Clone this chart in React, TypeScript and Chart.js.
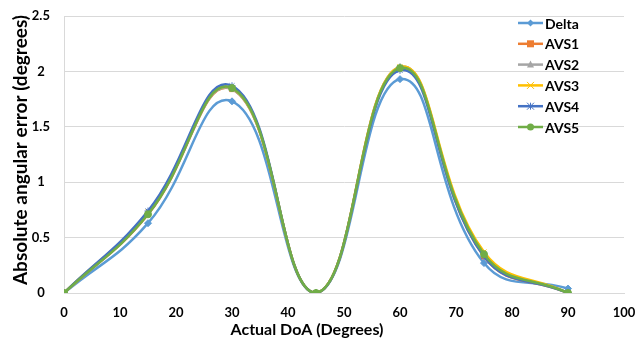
import React, { useEffect, useRef } from "react";
import { Chart, registerables } from "chart.js";

Chart.register(...registerables);

const doa = [0, 15, 30, 45, 60, 75, 90];
const delta = [0, 0.63, 1.73, 0, 1.93, 0.27, 0.04];
const avs1 = [0, 0.71, 1.84, 0, 2.03, 0.33, 0];
const avs2 = [0, 0.72, 1.84, 0, 2.04, 0.35, 0];
const avs3 = [0, 0.73, 1.85, 0, 2.04, 0.37, 0];
const avs4 = [0, 0.74, 1.87, 0, 2.01, 0.33, 0];
const avs5 = [0, 0.71, 1.85, 0, 2.03, 0.35, 0];

const seriesNames = ["Delta", "AVS1", "AVS2", "AVS3", "AVS4", "AVS5"];
const seriesValues = [delta, avs1, avs2, avs3, avs4, avs5];
const seriesColors = ["#5B9BD5", "#ED7D31", "#A5A5A5", "#FFC000", "#4472C4", "#70AD47"];
const seriesMarkers = ["rectRot", "rect", "triangle", "crossRot", "star", "circle"];

const xTitle = "Actual DoA (Degrees)";
const yTitle = "Absolute angular error (degrees)";

const FONT = "Lato, 'Open Sans', sans-serif";

function drawMarker(ctx: any, style: string, x: number, y: number, color: string) {
  const r = 3.5;
  ctx.save();
  ctx.fillStyle = color;
  ctx.strokeStyle = color;
  ctx.lineWidth = 1;
  ctx.beginPath();
  if (style === "rectRot") {
    ctx.moveTo(x, y - r);
    ctx.lineTo(x + r, y);
    ctx.lineTo(x, y + r);
    ctx.lineTo(x - r, y);
    ctx.closePath();
    ctx.fill();
  } else if (style === "rect") {
    ctx.rect(x - r, y - r, 2 * r, 2 * r);
    ctx.fill();
  } else if (style === "triangle") {
    ctx.moveTo(x, y - r - 0.5);
    ctx.lineTo(x + r, y + r - 0.5);
    ctx.lineTo(x - r, y + r - 0.5);
    ctx.closePath();
    ctx.fill();
  } else if (style === "crossRot") {
    ctx.moveTo(x - r, y - r);
    ctx.lineTo(x + r, y + r);
    ctx.moveTo(x + r, y - r);
    ctx.lineTo(x - r, y + r);
    ctx.stroke();
  } else if (style === "star") {
    ctx.moveTo(x - r, y - r);
    ctx.lineTo(x + r, y + r);
    ctx.moveTo(x + r, y - r);
    ctx.lineTo(x - r, y + r);
    ctx.moveTo(x, y - r);
    ctx.lineTo(x, y + r);
    ctx.stroke();
  } else {
    ctx.arc(x, y, r, 0, Math.PI * 2);
    ctx.fill();
  }
  ctx.restore();
}

const legendPlugin = {
  id: "customLegend",
  afterDraw(chart: any) {
    const ctx = chart.ctx;
    ctx.save();
    const x0 = 518;
    const x1 = 543;
    seriesNames.forEach((name, i) => {
      const y = 23 + i * 20.8;
      ctx.strokeStyle = seriesColors[i];
      ctx.lineWidth = 2.5;
      ctx.beginPath();
      ctx.moveTo(x0, y);
      ctx.lineTo(x1, y);
      ctx.stroke();
      drawMarker(ctx, seriesMarkers[i], (x0 + x1) / 2, y, seriesColors[i]);
      ctx.fillStyle = "#000";
      ctx.font = `bold 14px ${FONT}`;
      ctx.textAlign = "left";
      ctx.textBaseline = "middle";
      ctx.fillText(name, 545, y + 1);
    });
    ctx.fillStyle = "#000";
    ctx.font = `bold 16px ${FONT}`;
    ctx.textAlign = "center";
    ctx.textBaseline = "middle";
    ctx.fillText(xTitle, 307, 330);
    ctx.save();
    ctx.translate(21, 150);
    ctx.rotate(-Math.PI / 2);
    ctx.font = `bold 19px ${FONT}`;
    ctx.fillText(yTitle, 0, 0);
    ctx.restore();
    ctx.restore();
  },
};

export default function App() {
  const ref = useRef<HTMLCanvasElement>(null);

  useEffect(() => {
    if (!ref.current) return;
    const datasets = seriesNames.map((name, i) => ({
      label: name,
      data: doa.map((x, j) => ({ x, y: seriesValues[i][j] })),
      borderColor: seriesColors[i],
      backgroundColor: seriesColors[i],
      borderWidth: 2.5,
      pointStyle: seriesMarkers[i] as any,
      pointRadius: 3.5,
      pointBorderWidth: 1,
      tension: 0.45,
      fill: false,
      order: seriesNames.length - i,
    }));
    const chart = new Chart(ref.current, {
      type: "line",
      data: { datasets },
      plugins: [legendPlugin],
      options: {
        animation: false,
        responsive: false,
        maintainAspectRatio: false,
        layout: { padding: { left: 0, right: 13, top: 16, bottom: 0 } },
        plugins: {
          legend: { display: false },
          tooltip: { enabled: false },
        },
        scales: {
          x: {
            type: "linear",
            min: 0,
            max: 100,
            ticks: {
              stepSize: 10,
              color: "#000",
              font: { family: FONT, size: 13, weight: "bold" },
              padding: 12,
            },
            grid: { display: false, drawTicks: false },
            border: { display: true, color: "#d9d9d9" },
            afterFit: (s: any) => {
              s.height = 48;
              s.paddingRight = 0;
              s.paddingLeft = 0;
            },
          },
          y: {
            min: 0,
            max: 2.5,
            ticks: {
              stepSize: 0.5,
              color: "#000",
              font: { family: FONT, size: 13, weight: "bold" },
              padding: 14,
              crossAlign: "center",
              callback: (v: any) => String(Number(v)),
            },
            grid: { color: "#d9d9d9", drawTicks: false, lineWidth: 1 },
            border: { display: true, color: "#d9d9d9" },
            afterFit: (s: any) => {
              s.width = 64;
              s.paddingTop = 0;
              s.paddingBottom = 0;
            },
          },
        },
      },
    } as any);
    return () => chart.destroy();
  }, []);

  return (
    <div style={{ position: "absolute", left: 0, top: 0, width: 637, height: 341, background: "#fff" }}>
      <canvas ref={ref} width={637} height={341} style={{ display: "block" }} />
    </div>
  );
}
